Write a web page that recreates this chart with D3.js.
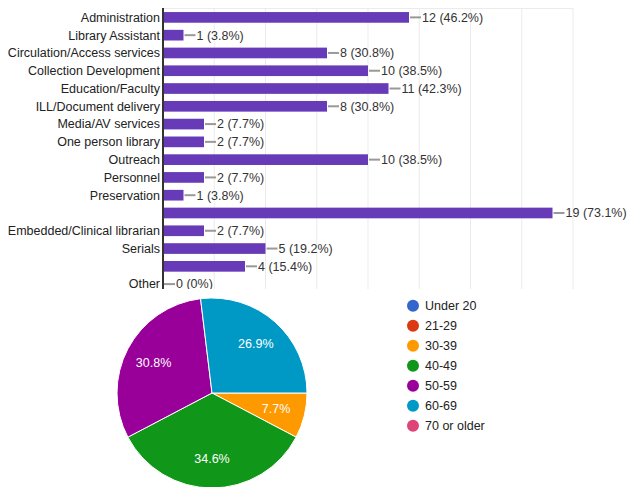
<!DOCTYPE html>
<html>
<head>
  <meta charset="utf-8">
  <title>Survey responses</title>
  <style>
    body { margin: 0; background: #fff; font-family: Arial, "Liberation Sans", sans-serif; }
    .grid line { stroke: #ebebeb; stroke-width: 1; }
    .cat text { fill: #222; font-size: 12.5px; }
    .val text { fill: #333; font-size: 12.5px; }
    .legend text { fill: #222; font-size: 12.5px; }
  </style>
  <script src="https://cdn.jsdelivr.net/npm/d3@7"></script>
</head>
<body>
  <div id="chart"></div>
  <script>
    // bar chart data (two categories have no visible label)
    var roles = ["Administration", "Library Assistant", "Circulation/Access services",
      "Collection Development", "Education/Faculty", "ILL/Document delivery",
      "Media/AV services", "One person library", "Outreach", "Personnel",
      "Preservation", "", "Embedded/Clinical librarian", "Serials", "", "Other"];
    var roleCounts = [12, 1, 8, 10, 11, 8, 2, 2, 10, 2, 1, 19, 2, 5, 4, 0];
    var respondents = 26;
    var xTicks = [0, 2.5, 5, 7.5, 10, 12.5, 15, 17.5, 20];

    // pie data
    var ageGroups = ["Under 20", "21-29", "30-39", "40-49", "50-59", "60-69", "70 or older"];
    var ageCounts = [0, 0, 2, 9, 8, 7, 0];
    var ageColors = ["#3366cc", "#dc3912", "#ff9900", "#109618", "#990099", "#0099c6", "#dd4477"];

    var width = 627, height = 487;
    var barTop = 8, barBottom = 289;

    var svg = d3.select("#chart").append("svg")
      .attr("width", width)
      .attr("height", height);

    // the bar chart is cut off at the bottom by its container
    svg.append("clipPath").attr("id", "barclip")
      .append("rect").attr("x", 0).attr("y", 0).attr("width", width).attr("height", barBottom);

    var bars = svg.append("g").attr("clip-path", "url(#barclip)");

    // ---- bar chart ----
    var x = d3.scaleLinear().domain([0, 20]).range([163, 573]);
    var y = d3.scaleBand().domain(d3.range(roles.length)).range([8.5, 293]).paddingInner(0.4).paddingOuter(0.2);

    var grid = bars.append("g").attr("class", "grid");
    grid.selectAll("line.v")
      .data(xTicks)
      .enter().append("line")
      .attr("class", "v")
      .attr("x1", function (d) { return x(d); })
      .attr("x2", function (d) { return x(d); })
      .attr("y1", barTop)
      .attr("y2", barBottom);
    grid.append("line")
      .attr("x1", x(0)).attr("x2", x(20))
      .attr("y1", barTop + 0.5).attr("y2", barTop + 0.5);

    bars.append("g").selectAll("rect")
      .data(roleCounts)
      .enter().append("rect")
      .attr("x", x(0))
      .attr("y", function (d, i) { return y(i); })
      .attr("width", function (d) { return x(d) - x(0); })
      .attr("height", y.bandwidth())
      .attr("fill", "#673ab7");

    // axis line
    bars.append("line")
      .attr("x1", x(0)).attr("x2", x(0))
      .attr("y1", barTop).attr("y2", barBottom)
      .attr("stroke", "#333").attr("stroke-width", 2);

    bars.append("g").attr("class", "cat")
      .selectAll("text")
      .data(roles)
      .enter().append("text")
      .attr("x", x(0) - 3)
      .attr("y", function (d, i) { return y(i) + y.bandwidth() / 2; })
      .attr("dy", "0.35em")
      .attr("text-anchor", "end")
      .text(function (d) { return d; });

    var val = bars.append("g").attr("class", "val")
      .selectAll("g")
      .data(roleCounts)
      .enter().append("g");

    val.append("line")
      .attr("x1", function (d) { return x(d) + 1; })
      .attr("x2", function (d) { return x(d) + 12; })
      .attr("y1", function (d, i) { return y(i) + y.bandwidth() / 2; })
      .attr("y2", function (d, i) { return y(i) + y.bandwidth() / 2; })
      .attr("stroke", "#999").attr("stroke-width", 2);

    val.append("text")
      .attr("x", function (d) { return x(d) + 13; })
      .attr("y", function (d, i) { return y(i) + y.bandwidth() / 2; })
      .attr("dy", "0.35em")
      .text(function (d) {
        var p = Math.round(d / respondents * 1000) / 10;
        return d + " (" + p + "%)";
      });

    // ---- pie chart ----
    var cx = 212, cy = 393, radius = 95;
    var pie = d3.pie().sort(null).startAngle(Math.PI / 2).endAngle(Math.PI / 2 + 2 * Math.PI);
    var arcs = pie(ageCounts);
    var arc = d3.arc().innerRadius(0).outerRadius(radius);
    var labelArc = d3.arc().innerRadius(66).outerRadius(66);

    var pg = svg.append("g").attr("transform", "translate(" + cx + "," + cy + ")");
    pg.selectAll("path")
      .data(arcs.filter(function (d) { return d.value > 0; }))
      .enter().append("path")
      .attr("d", arc)
      .attr("fill", function (d) { return ageColors[d.index]; })
      .attr("stroke", "#fff").attr("stroke-width", 1);

    pg.selectAll("text")
      .data(arcs.filter(function (d) { return d.value > 0; }))
      .enter().append("text")
      .attr("transform", function (d) { return "translate(" + labelArc.centroid(d) + ")"; })
      .attr("text-anchor", "middle")
      .attr("dy", "0.35em")
      .attr("fill", "#fff")
      .style("font-size", "12.5px")
      .text(function (d) { return (Math.round(d.value / respondents * 1000) / 10) + "%"; });

    // legend
    var lg = svg.append("g").attr("class", "legend")
      .selectAll("g")
      .data(ageGroups)
      .enter().append("g")
      .attr("transform", function (d, i) { return "translate(413," + (305.7 + i * 20) + ")"; });
    lg.append("circle").attr("r", 6).attr("fill", function (d, i) { return ageColors[i]; });
    lg.append("text").attr("x", 12).attr("dy", "0.35em").text(function (d) { return d; });
  </script>
</body>
</html>
